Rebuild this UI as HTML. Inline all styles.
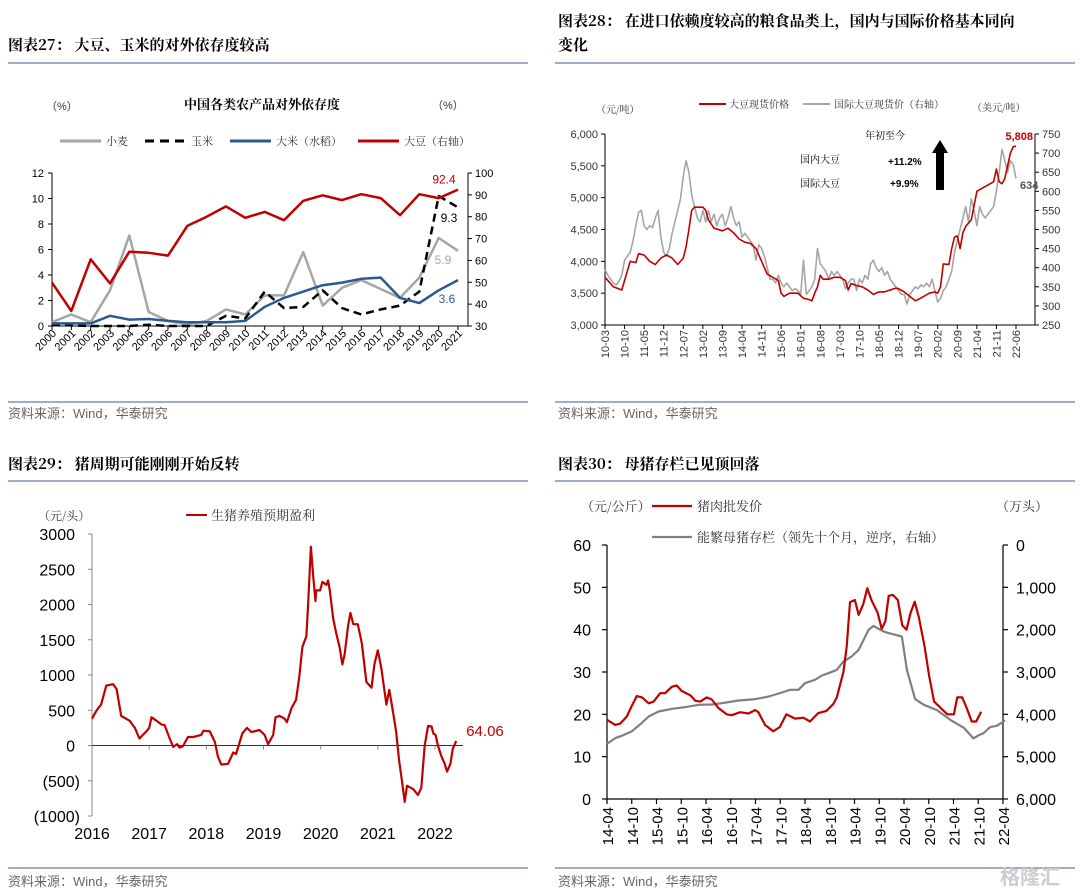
<!DOCTYPE html>
<html><head><meta charset="utf-8"><style>
body{margin:0;background:#fff;}
svg{display:block;font-family:"Liberation Sans","Noto Sans CJK SC",sans-serif;}
.cj{font-family:"Noto Serif CJK SC","Noto Sans CJK SC",serif;}
</style></head><body>
<svg id="root" width="1080" height="892" viewBox="0 0 1080 892">
<!-- headers -->
<g font-weight="bold" font-size="15" class="cj" fill="#000">
<text x="8" y="50">图表27：  大豆、玉米的对外依存度较高</text>
<text x="558" y="26">图表28：  在进口依赖度较高的粮食品类上，国内与国际价格基本同向</text>
<text x="558" y="50">变化</text>
<text x="8" y="469">图表29：  猪周期可能刚刚开始反转</text>
<text x="558" y="469">图表30：  母猪存栏已见顶回落</text>
</g>
<g stroke="#7f93b5" stroke-width="1.5">
<line x1="8" y1="63" x2="528" y2="63"/><line x1="555" y1="63" x2="1075" y2="63"/>
<line x1="8" y1="402" x2="528" y2="402"/><line x1="555" y1="402" x2="1075" y2="402"/>
<line x1="8" y1="481" x2="528" y2="481"/><line x1="555" y1="481" x2="1075" y2="481"/>
<line x1="8" y1="868" x2="528" y2="868"/><line x1="555" y1="868" x2="1075" y2="868"/>
</g>
<g font-size="13" fill="#666">
<text x="8" y="418">资料来源：Wind，华泰研究</text>
<text x="558" y="418">资料来源：Wind，华泰研究</text>
<text x="8" y="886">资料来源：Wind，华泰研究</text>
<text x="558" y="886">资料来源：Wind，华泰研究</text>
</g>
<text x="1000" y="884" font-size="20" fill="#ccc" font-weight="bold">格隆汇</text>

<g id="c1"></g>
<g id="c2"></g>
<g id="c3"></g>
<g id="c4"></g>
</svg>
<script>
// ---------- Chart 27 data ----------
const years27 = [2000,2001,2002,2003,2004,2005,2006,2007,2008,2009,2010,2011,2012,2013,2014,2015,2016,2017,2018,2019,2020,2021];
const wheat27 = [0.3,0.9,0.3,2.8,7.1,1.1,0.4,0.1,0.4,1.3,0.9,2.4,2.4,5.8,1.6,3.0,3.6,2.9,2.2,3.8,6.9,5.9];
const corn27 = [0.1,0.05,0,0,0,0.1,0,0,0,0.8,0.6,2.7,1.4,1.5,2.8,1.4,0.9,1.3,1.6,2.7,10.2,9.3];
const rice27 = [0.2,0.2,0.2,0.8,0.5,0.55,0.4,0.3,0.3,0.3,0.4,1.5,2.2,2.7,3.2,3.4,3.7,3.8,2.2,1.8,2.8,3.6];
const soy27 = [49.8,36.9,60.5,49.5,64,63.5,62.2,75.8,80,84.7,79.5,82.2,78.4,87.3,89.8,87.6,90.3,88.5,80.7,90.3,88.5,92.4];
const leftTicks27 = [0,2,4,6,8,10,12];
const rightTicks27 = [30,40,50,60,70,80,90,100];

// ---------- Chart 28 data (monthly from 2010-03) ----------
const months28 = ["10-03","10-10","11-05","11-12","12-07","13-02","13-09","14-04","14-11","15-06","16-01","16-08","17-03","17-10","18-05","18-12","19-07","20-02","20-09","21-04","21-11","22-06"];
const domM28 = [0,3,6,7,9,11,12,14,16,18,20,22,24,26,28,29,30,31,32,35,36,37,39,42,44,46,48,50,52,54,56,58,60,62,63,64,66,69,71,73,74,75,76,77,78,80,82,84,86,87,88,90,92,94,96,98,100,102,104,105,107,109,111,112,114,116,118,119,120,121,123,124,125,126,127,128,129,131,133,135,137,139,140,141,142,143,145,146,147];
const domV28 = [3750,3600,3550,3700,4000,3980,4120,4100,4000,3950,4050,4100,4050,3950,4050,4230,4500,4800,4850,4850,4800,4650,4520,4480,4520,4450,4350,4300,4280,4200,4000,3800,3750,3700,3500,3450,3500,3500,3420,3400,3380,3500,3600,3780,3720,3720,3750,3750,3700,3550,3650,3620,3600,3550,3480,3520,3520,3550,3580,3570,3520,3450,3380,3400,3450,3500,3520,3500,3600,3960,3950,4200,4380,4400,4200,4450,4550,4650,5100,5150,5200,5250,5450,5250,5220,5300,5700,5800,5808];
const intlV28 = [395,380,370,360,355,365,380,420,430,440,470,510,545,550,510,500,510,505,530,550,480,440,430,450,490,520,550,580,640,680,650,590,560,530,520,550,520,550,520,540,510,530,540,510,530,560,530,510,520,480,490,480,470,460,420,460,450,430,400,370,370,360,380,360,350,360,350,340,345,340,330,420,330,340,350,370,450,410,400,390,370,390,380,390,380,370,345,360,370,370,340,370,360,380,370,410,420,400,390,400,380,390,370,360,350,340,330,330,305,330,340,350,345,355,350,360,350,370,340,310,320,340,350,370,390,440,470,500,530,560,520,580,550,510,560,540,530,540,550,560,600,650,710,680,650,680,670,634];
const leftTicks28 = [3000,3500,4000,4500,5000,5500,6000];
const rightTicks28 = [250,300,350,400,450,500,550,600,650,700,750];

// ---------- Chart 29 data ----------
const dates29 = [2016.0,2016.08,2016.16,2016.25,2016.37,2016.43,2016.51,2016.66,2016.75,2016.83,2016.95,2017.0,2017.04,2017.13,2017.21,2017.27,2017.36,2017.42,2017.49,2017.53,2017.59,2017.68,2017.77,2017.91,2017.95,2018.06,2018.15,2018.2,2018.26,2018.38,2018.47,2018.52,2018.63,2018.71,2018.79,2018.93,2019.02,2019.08,2019.17,2019.21,2019.28,2019.37,2019.41,2019.49,2019.57,2019.63,2019.68,2019.75,2019.78,2019.83,2019.87,2019.91,2019.92,2019.99,2020.03,2020.10,2020.13,2020.16,2020.22,2020.27,2020.33,2020.38,2020.42,2020.48,2020.52,2020.57,2020.65,2020.72,2020.80,2020.89,2020.94,2021.0,2021.06,2021.15,2021.2,2021.27,2021.32,2021.37,2021.43,2021.47,2021.51,2021.62,2021.70,2021.76,2021.82,2021.88,2021.94,2021.97,2022.01,2022.05,2022.11,2022.17,2022.21,2022.27,2022.31,2022.37];
const profit29 = [380,500,580,850,870,800,420,350,250,100,200,250,400,350,300,290,100,-20,20,-30,-10,120,120,150,210,200,50,-150,-270,-260,-100,-120,170,250,190,220,150,20,150,400,420,380,330,530,650,1000,1400,1550,2000,2820,2400,2050,2200,2200,2320,2280,2340,2200,1800,1600,1400,1150,1300,1700,1880,1720,1720,1450,900,820,1150,1350,1100,580,790,450,200,-200,-550,-800,-570,-620,-700,-600,0,280,270,170,150,0,-150,-260,-370,-260,-50,64.06];
const yTicks29 = [-1000,-500,0,500,1000,1500,2000,2500,3000];
const xYears29 = [2016,2017,2018,2019,2020,2021,2022];

// ---------- Chart 30 data (months from 2014-04) ----------
const labels30 = ["14-04","14-10","15-04","15-10","16-04","16-10","17-04","17-10","18-04","18-10","19-04","19-10","20-04","20-10","21-04","21-10","22-04"];
const priceM30 = [0,2,3.2,4.8,6,7.2,8.5,10.1,11.3,12.9,14.1,15.7,16.9,18.1,20.2,21.4,22.6,24.2,25.4,27,29,30.2,32.3,34.3,35.9,36.7,38.3,40.3,41.9,43.5,45.6,47.6,49.2,51.2,53.2,54.9,55.7,57.3,58.1,58.9,60.1,61,62.1,63.1,64.1,65.6,66.6,67.5,68.3,69.3,70.5,71.6,72.6,73.6,74.6,75.6,77,78.1,79.3,80.9,82.5,84.1,84.9,86.1,87.2,88.4,89.5,90.7];
const price30 = [18.7,17.5,17.8,19.5,22,24.3,24,22.6,23,25,25,26.5,26.8,25.5,24.5,23.2,23,24,23.5,21.5,20,19.8,20.5,20.2,21,20.5,17.5,16,17,20,19,19.2,18.3,20.3,20.8,22.5,24,30,36,46.5,47,43.5,46,49.8,47,44,40.2,42,48,48.2,47,41,40,44,46.6,43,36,29,23,21.5,20,20,24,24,21.5,18.3,18.3,20.6];
const sowM30 = [0,2,3.6,6,8.4,10.1,12.5,15.8,19,22.3,25.5,27.9,31.9,36,39.2,42.4,44.4,46.4,48,50.4,52.1,53.7,55.7,57.3,59.3,61,62.2,63.4,64.6,66.3,67.5,71.5,72.7,74.7,76.8,80,83.2,86.6,88.8,90,91.3,92.9,94.5,96.5];
const sow30 = [4695,4561,4506,4404,4207,4050,3932,3869,3830,3775,3767,3735,3673,3641,3578,3484,3421,3421,3264,3185,3083,3028,2949,2752,2634,2477,2241,2005,1911,2005,2060,2163,2949,3641,3775,3900,4129,4325,4569,4500,4443,4302,4270,4144];
const leftTicks30 = [0,10,20,30,40,50,60];
const rightTicks30 = [0,1000,2000,3000,4000,5000,6000];

const NS = "http://www.w3.org/2000/svg";
function mk(parent, tag, attrs, text){
  const e = document.createElementNS(NS, tag);
  for (const k in attrs) e.setAttribute(k, attrs[k]);
  if (text !== undefined) e.textContent = text;
  parent.appendChild(e);
  return e;
}
function scale(d0,d1,r0,r1){return v => r0 + (v-d0)/(d1-d0)*(r1-r0);}
function pathD(xs, ys, fx, fy){return xs.map((x,i)=>(i?"L":"M")+fx(x).toFixed(1)+","+fy(ys[i]).toFixed(1)).join("");}
function fmt(n){return n.toLocaleString("en-US");}

// ================= Chart 27 =================
(function(){
  const g = document.getElementById("c1");
  const x = scale(2000,2021,52,458);
  const yl = scale(0,12,326,173);
  const yr = scale(30,100,326,173);
  let t;
  t = mk(g,"text",{x:262,y:109,"text-anchor":"middle","font-size":13,"font-weight":"bold",class:"cj"},"中国各类农产品对外依存度");
  
  
  t = mk(g,"text",{x:46,y:110,"font-size":11,fill:"#333"},"（%）");
  
  
  t = mk(g,"text",{x:432,y:109,"font-size":11,fill:"#333"},"（%）");
  
  
  const leg = [["小麦","#a6a6a6",""],["玉米","#000","9,6"],["大米（水稻）","#2d5a8e",""],["大豆（右轴）","#c00000",""]];
  const lx = [60,145,230,358];
  leg.forEach((L,i)=>{
    const lg = mk(g,"g",{});
    
    
    mk(lg,"line",{x1:lx[i],y1:141,x2:lx[i]+41,y2:141,stroke:L[1],"stroke-width":3,"stroke-dasharray":L[2]});
    mk(lg,"text",{x:lx[i]+46,y:145,"font-size":11,fill:"#333",class:"cj"},L[0]);
  });
  // axes
  const ax = mk(g,"g",{stroke:"#000","stroke-width":1});
  
  
  mk(ax,"line",{x1:52,y1:173,x2:52,y2:326});
  mk(ax,"line",{x1:468,y1:173,x2:468,y2:326});
  mk(ax,"line",{x1:52,y1:326,x2:468,y2:326});
  leftTicks27.forEach(v=>{
    mk(ax,"line",{x1:48,y1:yl(v),x2:52,y2:yl(v)});
    const tt = mk(g,"text",{x:44,y:yl(v)+4,"text-anchor":"end","font-size":11},v);
    
    
  });
  rightTicks27.forEach(v=>{
    mk(ax,"line",{x1:468,y1:yr(v),x2:472,y2:yr(v)});
    const tt = mk(g,"text",{x:475,y:yr(v)+4,"font-size":11},v);
    
    
  });
  years27.forEach(yv=>{
    mk(ax,"line",{x1:x(yv),y1:326,x2:x(yv),y2:330});
    const tt = mk(g,"text",{x:x(yv)+5,y:334,"text-anchor":"end","font-size":11,transform:`rotate(-45 ${x(yv)+5} 334)`},yv);
    
    
  });
  const series = [[wheat27,yl,"#a6a6a6","","wheat-line"],[corn27,yl,"#000","8,5","corn-line"],[rice27,yl,"#2d5a8e","","rice-line"],[soy27,yr,"#c00000","","soybean-line"]];
  series.forEach(s=>{
    const p = mk(g,"path",{d:pathD(years27,s[0],x,s[1]),fill:"none",stroke:s[2],"stroke-width":2.5,"stroke-dasharray":s[3],"stroke-linejoin":"round"});
    
    
  });
  const n = years27.length-1;
  const labs = [[soy27[n].toFixed(1),444,yr(soy27[n])-6,"#c00000"],[corn27[n].toFixed(1),449,222,"#000"],[wheat27[n].toFixed(1),443,264,"#a6a6a6"],[rice27[n].toFixed(1),447,303,"#2d5a8e"]];
  labs.forEach(L=>{
    const tt = mk(g,"text",{x:L[1],y:L[2],"text-anchor":"middle","font-size":12,fill:L[3]},L[0]);
    
    
  });
})();

// ================= Chart 28 =================
(function(){
  const g = document.getElementById("c2");
  const x = scale(0,147,605,1016);
  const yl = scale(3000,6000,325,134);
  const yr = scale(250,750,325,134);
  let t;
  t = mk(g,"text",{x:596,y:113,"font-size":10,fill:"#333",class:"cj"},"（元/吨）");
  
  
  t = mk(g,"text",{x:972,y:111,"font-size":10,fill:"#333",class:"cj"},"（美元/吨）");
  
  
  const l1 = mk(g,"g",{});
  
  
  mk(l1,"line",{x1:699,y1:104,x2:726,y2:104,stroke:"#c00000","stroke-width":2});
  mk(l1,"text",{x:729,y:108,"font-size":10,fill:"#333",class:"cj"},"大豆现货价格");
  const l2 = mk(g,"g",{});
  
  
  mk(l2,"line",{x1:803,y1:104,x2:830,y2:104,stroke:"#a6a6a6","stroke-width":2});
  mk(l2,"text",{x:834,y:108,"font-size":10,fill:"#333",class:"cj"},"国际大豆现货价（右轴）");
  const ax = mk(g,"g",{stroke:"#000","stroke-width":1});
  
  
  mk(ax,"line",{x1:605,y1:134,x2:605,y2:325});
  mk(ax,"line",{x1:1035,y1:134,x2:1035,y2:325});
  mk(ax,"line",{x1:605,y1:325,x2:1035,y2:325});
  leftTicks28.forEach(v=>{
    mk(ax,"line",{x1:601,y1:yl(v),x2:605,y2:yl(v)});
    const tt = mk(g,"text",{x:598,y:yl(v)+4,"text-anchor":"end","font-size":11,fill:"#333"},fmt(v));
    
    
  });
  rightTicks28.forEach(v=>{
    mk(ax,"line",{x1:1035,y1:yr(v),x2:1039,y2:yr(v)});
    const tt = mk(g,"text",{x:1042,y:yr(v)+4,"font-size":11,fill:"#333"},v);
    
    
  });
  months28.forEach((m,i)=>{
    const xx = x(i*7);
    mk(ax,"line",{x1:xx,y1:325,x2:xx,y2:329});
    const tt = mk(g,"text",{x:xx+4,y:330,"text-anchor":"end","font-size":11,fill:"#333",transform:`rotate(-90 ${xx+4} 330)`},m);
    
    
  });
  const im = intlV28.map((v,i)=>i*147/(intlV28.length-1));
  const pg = mk(g,"path",{d:pathD(im,intlV28,x,yr),fill:"none",stroke:"#a6a6a6","stroke-width":1.6,"stroke-linejoin":"round"});
  
  
  const pr = mk(g,"path",{d:pathD(domM28,domV28,x,yl),fill:"none",stroke:"#c00000","stroke-width":1.6,"stroke-linejoin":"round"});
  
  
  const ann = [["年初至今",865,139,"normal"],["国内大豆",800,163,"normal"],["+11.2%",888,165,"bold"],["国际大豆",800,187,"normal"],["+9.9%",890,187,"bold"]];
  ann.forEach(a=>{
    const tt = mk(g,"text",{x:a[1],y:a[2],"font-size":10,"font-weight":a[3],class:a[3]==="normal"?"cj":""},a[0]);
    
    
  });
  const arr = mk(g,"path",{d:"M936,190 L936,153 L932,153 L940,140 L948,153 L944,153 L944,190 Z",fill:"#000"});
  
  
  t = mk(g,"text",{x:1033,y:140,"text-anchor":"end","font-size":11,"font-weight":"bold",fill:"#c00000"},fmt(domV28[domV28.length-1]));
  
  
  t = mk(g,"text",{x:1020,y:189,"font-size":11,"font-weight":"bold",fill:"#555"},intlV28[intlV28.length-1]);
  
  
})();

// ================= Chart 29 =================
(function(){
  const g = document.getElementById("c3");
  const x = scale(2016,2022,92,435);
  const y = scale(-1000,3000,816,534);
  let t;
  t = mk(g,"text",{x:38,y:520,"font-size":12,fill:"#333",class:"cj"},"（元/头）");
  
  
  const lg = mk(g,"g",{});
  
  
  mk(lg,"line",{x1:186,y1:515,x2:207,y2:515,stroke:"#c00000","stroke-width":2});
  mk(lg,"text",{x:211,y:520,"font-size":13,fill:"#333",class:"cj"},"生猪养殖预期盈利");
  const ax = mk(g,"g",{stroke:"#888","stroke-width":1});
  
  
  mk(ax,"line",{x1:92,y1:534,x2:92,y2:816});
  mk(ax,"line",{x1:92,y1:y(0),x2:463,y2:y(0),stroke:"#333"});
  yTicks29.forEach(v=>{
    mk(ax,"line",{x1:88,y1:y(v),x2:92,y2:y(v)});
    const lab = v<0 ? "("+(-v)+")" : String(v);
    const tt = mk(g,"text",{x:v<0?80:75,y:y(v)+6,"text-anchor":"end","font-size":16},lab);
    
    
  });
  xYears29.forEach(yv=>{
    mk(ax,"line",{x1:x(yv),y1:y(0),x2:x(yv),y2:y(0)+4});
    const tt = mk(g,"text",{x:x(yv),y:839,"text-anchor":"middle","font-size":16},yv);
    
    
  });
  const p = mk(g,"path",{d:pathD(dates29,profit29,x,y),fill:"none",stroke:"#c00000","stroke-width":2.2,"stroke-linejoin":"round"});
  
  
  t = mk(g,"text",{x:485,y:736,"text-anchor":"middle","font-size":15,fill:"#c00000"},profit29[profit29.length-1].toFixed(2));
  
  
})();

// ================= Chart 30 =================
(function(){
  const g = document.getElementById("c4");
  const x = scale(0,96,607,1003);
  const yl = scale(0,60,799,545);
  const yr = scale(0,6000,545,799);
  let t;
  t = mk(g,"text",{x:581,y:511,"font-size":13,fill:"#333",class:"cj"},"（元/公斤）");
  
  
  t = mk(g,"text",{x:996,y:511,"font-size":13,fill:"#333",class:"cj"},"（万头）");
  
  
  const l1 = mk(g,"g",{});
  
  
  mk(l1,"line",{x1:652,y1:506,x2:692,y2:506,stroke:"#c00000","stroke-width":2.2});
  mk(l1,"text",{x:697,y:511,"font-size":13,fill:"#333",class:"cj"},"猪肉批发价");
  const l2 = mk(g,"g",{});
  
  
  mk(l2,"line",{x1:652,y1:537,x2:692,y2:537,stroke:"#808080","stroke-width":2.2});
  mk(l2,"text",{x:697,y:542,"font-size":13,fill:"#333",class:"cj"},"能繁母猪存栏（领先十个月，逆序，右轴）");
  const ax = mk(g,"g",{stroke:"#000","stroke-width":1.2});
  
  
  mk(ax,"line",{x1:607,y1:545,x2:607,y2:799});
  mk(ax,"line",{x1:1003,y1:545,x2:1003,y2:799});
  mk(ax,"line",{x1:607,y1:799,x2:1003,y2:799});
  leftTicks30.forEach(v=>{
    mk(ax,"line",{x1:602,y1:yl(v),x2:607,y2:yl(v)});
    const tt = mk(g,"text",{x:591,y:yl(v)+6,"text-anchor":"end","font-size":16},v);
    
    
  });
  rightTicks30.forEach(v=>{
    mk(ax,"line",{x1:1003,y1:yr(v),x2:1008,y2:yr(v)});
    const tt = mk(g,"text",{x:1016,y:yr(v)+6,"font-size":16},fmt(v));
    
    
  });
  labels30.forEach((m,i)=>{
    const xx = x(i*6);
    mk(ax,"line",{x1:xx,y1:799,x2:xx,y2:804});
    const tt = mk(g,"text",{x:xx+6,y:807,"text-anchor":"end","font-size":15,transform:`rotate(-90 ${xx+6} 807)`},m);
    
    
  });
  const ps = mk(g,"path",{d:pathD(sowM30,sow30,x,yr),fill:"none",stroke:"#808080","stroke-width":2.2,"stroke-linejoin":"round"});
  
  
  const pp = mk(g,"path",{d:pathD(priceM30,price30,x,yl),fill:"none",stroke:"#c00000","stroke-width":2.2,"stroke-linejoin":"round"});
  
  
})();
</script>
</body></html>
